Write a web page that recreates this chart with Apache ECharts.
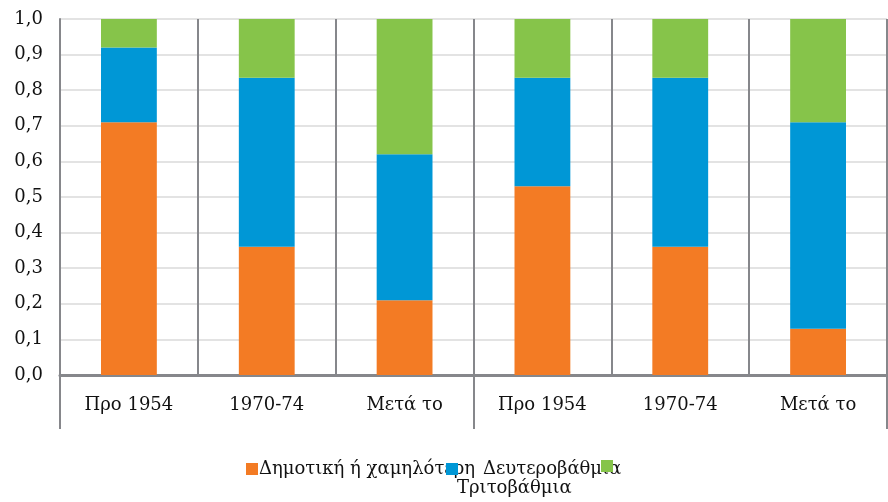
<!DOCTYPE html>
<html>
<head>
<meta charset="utf-8">
<script src="https://cdn.jsdelivr.net/npm/echarts@6/dist/echarts.min.js"></script>
<style>
  html, body { margin: 0; padding: 0; background: #fff; }
  #main { width: 888px; height: 502px; }
</style>
</head>
<body>
<div id="main"></div>
<script>
// κατηγορίες (δύο ομάδες των τριών περιόδων)
const categories = ['Προ 1954', '1970-74', 'Μετά το', 'Προ 1954', '1970-74', 'Μετά το']
const groups = ['', '']
const seriesNames = ['Δημοτική ή χαμηλότερη', 'Δευτεροβάθμια', 'Τριτοβάθμια']
// μερίδια ανά επίπεδο εκπαίδευσης
const primary = [0.71, 0.36, 0.21, 0.53, 0.36, 0.13]
const secondary = [0.21, 0.475, 0.41, 0.305, 0.475, 0.58]
const tertiary = [0.08, 0.165, 0.38, 0.165, 0.165, 0.29]

const colors = ['#f37b24', '#0097d6', '#86c44a']
const font = 'DejaVu Serif'
const axisGray = '#86878b'

const chart = echarts.init(document.getElementById('main'))

const option = {
  animation: false,
  color: colors,
  grid: {
    left: 60,
    right: 1,
    top: 19,
    bottom: 127
  },
  legend: [
    {
      left: 241,
      top: 455,
      icon: 'rect',
      itemWidth: 12,
      itemHeight: 12,
      data: [seriesNames[0]],
      textStyle: { fontFamily: font, fontSize: 18, color: '#111', padding: [0, 0, 0, -4] }
    },
    {
      left: 441,
      top: 455,
      icon: 'rect',
      itemWidth: 12,
      itemHeight: 12,
      data: [seriesNames[1]],
      textStyle: { fontFamily: font, fontSize: 18, color: '#111', padding: [0, 0, 0, 20] }
    },
    {
      left: 596,
      top: 455,
      icon: 'rect',
      itemWidth: 12,
      itemHeight: 12,
      data: [seriesNames[2]],
      formatter: function () { return '' }
    }
  ],
  // η λεζάντα της τρίτης σειράς έχει αναδιπλωθεί στη δεύτερη γραμμή
  graphic: [
    {
      type: 'text',
      left: 457,
      top: 479,
      style: { text: seriesNames[2], font: '18px "DejaVu Serif"', fill: '#111' }
    }
  ],
  xAxis: [
    {
      type: 'category',
      data: categories,
      position: 'bottom',
      axisLine: { show: true, lineStyle: { color: axisGray, width: 3 } },
      axisTick: { show: false },
      axisLabel: {
        interval: 0,
        margin: 21,
        fontFamily: font,
        fontSize: 18,
        color: '#111'
      },
      splitLine: { show: true, interval: 0, lineStyle: { color: axisGray, width: 2 } }
    },
    {
      type: 'category',
      data: groups,
      position: 'bottom',
      axisLine: { show: false },
      axisTick: { show: true, length: 54, interval: 0, lineStyle: { color: axisGray, width: 2 } },
      axisLabel: { show: false },
      splitLine: { show: false }
    }
  ],
  yAxis: {
    type: 'value',
    min: 0,
    max: 1,
    interval: 0.1,
    axisLine: { show: true, lineStyle: { color: axisGray, width: 2 } },
    axisTick: { show: false },
    axisLabel: {
      margin: 17,
      fontFamily: font,
      fontSize: 18,
      color: '#111',
      formatter: function (v) { return v.toFixed(1).replace('.', ',') }
    },
    splitLine: { lineStyle: { color: '#e3e3e3', width: 2 } }
  },
  series: [
    { name: seriesNames[0], type: 'bar', stack: 'total', barWidth: '40.5%', data: primary },
    { name: seriesNames[1], type: 'bar', stack: 'total', data: secondary },
    { name: seriesNames[2], type: 'bar', stack: 'total', data: tertiary }
  ]
}

chart.setOption(option)
</script>
</body>
</html>
